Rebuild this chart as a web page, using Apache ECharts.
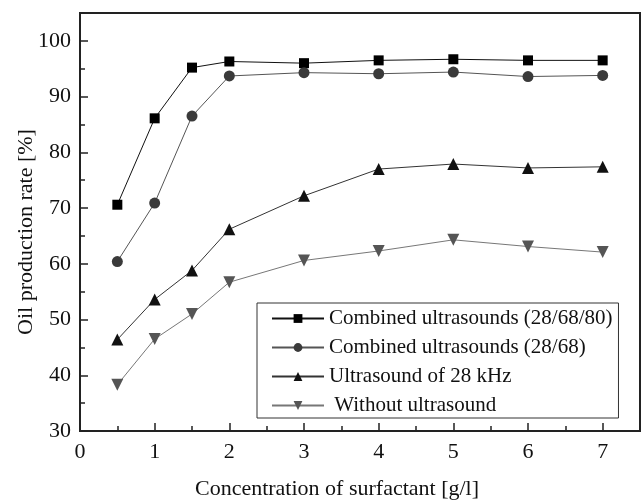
<!DOCTYPE html>
<html>
<head>
<meta charset="utf-8">
<script src="https://cdn.jsdelivr.net/npm/echarts@6/dist/echarts.min.js"></script>
<style>
  html, body { margin: 0; padding: 0; background: #fff; }
  #main { width: 642px; height: 504px; }
</style>
</head>
<body>
<div id="main"></div>
<script>
// concentration of surfactant [g/l]
var conc = [0.5, 1, 1.5, 2, 3, 4, 5, 6, 7];
// oil production rate [%]
var combined3 = [70.6, 86.1, 95.2, 96.3, 96.0, 96.5, 96.7, 96.5, 96.5];
var combined2 = [60.4, 70.9, 86.5, 93.7, 94.3, 94.1, 94.4, 93.6, 93.8];
var us28 = [46.4, 53.6, 58.8, 66.2, 72.2, 77.0, 77.9, 77.2, 77.4];
var noUs = [38.3, 46.5, 51.0, 56.7, 60.6, 62.3, 64.3, 63.1, 62.1];
var seriesNames = [
    "Combined ultrasounds (28/68/80)",
    "Combined ultrasounds (28/68)",
    "Ultrasound of 28 kHz",
    "Without ultrasound"
];

var font = "Liberation Serif";

function pairs(ys) {
    return conc.map(function (x, i) { return [x, ys[i]]; });
}

function makeSeries(name, ys, symbol, size, color, lineColor, rotate) {
    return {
        name: name,
        type: "line",
        data: pairs(ys),
        symbol: symbol,
        symbolSize: size,
        symbolRotate: rotate || 0,
        showAllSymbol: true,
        animation: false,
        itemStyle: { color: color, opacity: 1 },
        lineStyle: { color: lineColor, width: 1 },
        z: 3
    };
}

var chart = echarts.init(document.getElementById("main"), null, { renderer: "canvas" });

chart.setOption({
    backgroundColor: "#fff",
    grid: {
        left: 80,
        right: 2,
        top: 13,
        bottom: 73,
        outerBoundsMode: "none",
        show: true,
        borderColor: "#222",
        borderWidth: 2,
        backgroundColor: "transparent"
    },
    legend: {
        orient: "vertical",
        left: 257,
        top: 303,
        padding: [5, 6, 2, 14],
        itemGap: 8,
        itemWidth: 52,
        itemHeight: 11,
        borderColor: "#333",
        borderWidth: 1,
        backgroundColor: "#fff",
        data: seriesNames,
        formatter: function (name) {
            return name === seriesNames[3] ? " " + name : name;
        },
        textStyle: {
            fontFamily: font,
            fontSize: 21,
            color: "#111",
            lineHeight: 20
        }
    },
    xAxis: [
        {
            type: "value",
            min: 0,
            max: 7.5,
            interval: 1,
            name: "Concentration of surfactant [g/l]",
            nameLocation: "middle",
            nameGap: 47,
            nameMoveOverlap: false,
            nameTextStyle: {
                fontFamily: font,
                fontSize: 22,
                color: "#111",
                padding: [0, 46, 0, 0]
            },
            axisLine: { show: true, lineStyle: { color: "#222", width: 2 } },
            axisTick: { show: true, inside: true, length: 8, lineStyle: { color: "#222", width: 1.5 } },
            axisLabel: {
                showMaxLabel: false,
                margin: 10,
                fontFamily: font,
                fontSize: 22,
                color: "#111"
            },
            splitLine: { show: false }
        },
        {
            // minor ticks every 0.5
            type: "value",
            position: "bottom",
            min: 0,
            max: 7.5,
            interval: 0.5,
            axisLine: { show: false },
            axisTick: { show: true, inside: true, length: 5, lineStyle: { color: "#222", width: 1.5 } },
            axisLabel: { show: false },
            splitLine: { show: false }
        }
    ],
    yAxis: [
        {
            type: "value",
            min: 30,
            max: 105,
            interval: 10,
            name: "Oil production rate [%]",
            nameLocation: "middle",
            nameGap: 43,
            nameMoveOverlap: false,
            nameRotate: 90,
            nameTextStyle: {
                fontFamily: font,
                fontSize: 22,
                color: "#111",
                padding: [0, 20, 0, 0]
            },
            axisLine: { show: true, lineStyle: { color: "#222", width: 2 } },
            axisTick: { show: true, inside: true, length: 8, lineStyle: { color: "#222", width: 1.5 } },
            axisLabel: {
                showMaxLabel: false,
                margin: 9,
                fontFamily: font,
                fontSize: 22,
                color: "#111"
            },
            splitLine: { show: false }
        },
        {
            // minor ticks every 5
            type: "value",
            position: "left",
            min: 30,
            max: 105,
            interval: 5,
            axisLine: { show: false },
            axisTick: { show: true, inside: true, length: 5, lineStyle: { color: "#222", width: 1.5 } },
            axisLabel: { show: false },
            splitLine: { show: false }
        }
    ],
    series: [
        makeSeries(seriesNames[0], combined3, "rect", 10, "#000", "#111"),
        makeSeries(seriesNames[1], combined2, "circle", 11, "#3a3a3a", "#555"),
        makeSeries(seriesNames[2], us28, "triangle", 12, "#111", "#333"),
        makeSeries(seriesNames[3], noUs, "triangle", 12, "#555", "#777", 180)
    ]
});
</script>
</body>
</html>
